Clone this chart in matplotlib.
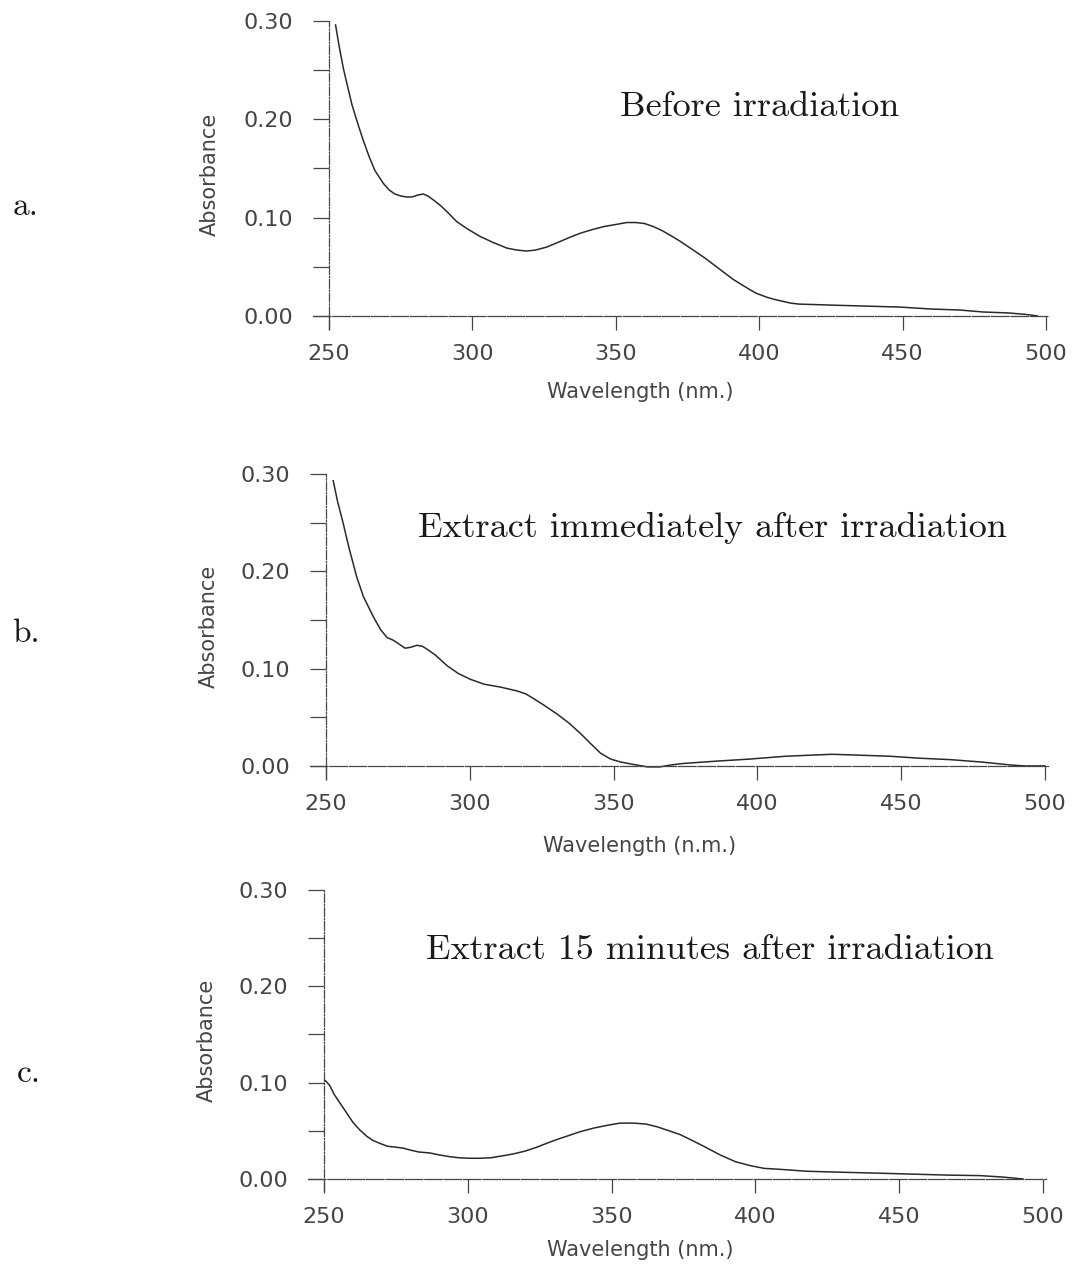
import matplotlib
matplotlib.use("Agg")
import matplotlib.pyplot as plt
from matplotlib.ticker import MultipleLocator

# (wavelength nm, absorbance)
wl_a = [252.3, 253.5, 255, 256.2, 258, 260, 261.9, 264, 266, 268.9, 271, 273, 275,
        277.1, 279, 281, 282.9, 284.5, 286.4, 289, 291.5, 294.5, 298, 302.6, 307,
        312, 315.5, 318.9, 322, 325.9, 330, 334, 337.5, 342, 346, 350, 353.8, 357,
        360, 363, 366, 369, 372.4, 377, 381, 386, 391, 396, 399, 402.7, 405, 408,
        411, 414, 420, 425, 437, 449, 460, 470, 478, 487, 493, 497]
abs_a = [0.296, 0.275, 0.252, 0.237, 0.215, 0.196, 0.179, 0.162, 0.148, 0.135, 0.128,
         0.124, 0.122, 0.121, 0.121, 0.123, 0.124, 0.122, 0.118, 0.112, 0.105, 0.096,
         0.089, 0.081, 0.075, 0.069, 0.067, 0.066, 0.067, 0.070, 0.075, 0.080, 0.084,
         0.088, 0.091, 0.093, 0.095, 0.095, 0.094, 0.091, 0.087, 0.082, 0.076, 0.067,
         0.059, 0.048, 0.037, 0.028, 0.023, 0.019, 0.017, 0.015, 0.013, 0.012, 0.0115,
         0.011, 0.010, 0.009, 0.007, 0.006, 0.004, 0.003, 0.0015, 0.0]

wl_b = [252.5, 254, 256, 258, 260.7, 263, 266.5, 269, 271.2, 273.5, 275.5, 277.5,
        279.5, 281.6, 283.5, 285.1, 288, 292.1, 296, 300.2, 305, 310.7, 316.5, 319.5,
        322.3, 326, 330.5, 334.5, 338.6, 342, 345.5, 349, 352.5, 357, 361.8, 366,
        370, 374, 386, 397, 410, 426, 436, 446, 456, 467, 478, 488, 493, 500]
abs_b = [0.293, 0.272, 0.249, 0.224, 0.194, 0.174, 0.153, 0.140, 0.132, 0.129, 0.125,
         0.121, 0.122, 0.124, 0.123, 0.120, 0.114, 0.103, 0.095, 0.089, 0.084, 0.081,
         0.077, 0.074, 0.069, 0.062, 0.053, 0.044, 0.033, 0.023, 0.013, 0.007, 0.004,
         0.0015, -0.001, -0.001, 0.001, 0.0025, 0.005, 0.007, 0.010, 0.012, 0.011,
         0.010, 0.008, 0.0065, 0.004, 0.001, 0.0, 0.0]

wl_c = [250.5, 252, 253.5, 255.5, 258, 260, 262.4, 265, 267, 269.4, 272, 275, 277.5,
        280, 283, 286.8, 290, 294, 297, 300.7, 304, 308, 312, 315.8, 320, 324, 327.4,
        331, 335, 339, 344, 349, 353, 357.6, 362, 366, 370, 373.9, 378, 382, 387.7,
        393, 398, 403, 408.6, 418, 430, 443, 455, 467, 478, 486, 493]
abs_c = [0.102, 0.097, 0.088, 0.079, 0.068, 0.059, 0.051, 0.044, 0.040, 0.037, 0.034,
         0.033, 0.032, 0.030, 0.028, 0.027, 0.025, 0.023, 0.022, 0.0215, 0.0215, 0.022,
         0.024, 0.026, 0.029, 0.033, 0.037, 0.041, 0.045, 0.049, 0.053, 0.056, 0.058,
         0.058, 0.057, 0.054, 0.050, 0.046, 0.040, 0.034, 0.025, 0.018, 0.014, 0.011,
         0.010, 0.008, 0.007, 0.006, 0.005, 0.004, 0.0035, 0.002, 0.0]

titles = ["Before irradiation",
          "Extract immediately after irradiation",
          "Extract 15 minutes after irradiation"]
letters = ["a.", "b.", "c."]
x_ticks = [250, 300, 350, 400, 450, 500]
y_ticks = [0.00, 0.10, 0.20, 0.30]

W, H = 1073, 1270
INK = "#2a2a2a"
GREY = "#454545"

# axes box in pixels: left, right, top, bottom
boxes = [(313.2, 1048.9, 21, 328.7),
         (310.2, 1047.9, 474, 778.6),
         (308.2, 1045.9, 890, 1191.5)]
title_xy = [(760, 107), (712, 528), (710, 950)]
letter_xy = [(13, 215), (12, 642), (17, 1082)]
xlabel_y = [392, 846, 1250]
ylabel_x = [220, 219, 217]
xlabels = ["Wavelength (nm.)", "Wavelength (n.m.)", "Wavelength (nm.)"]

fig = plt.figure(figsize=(W / 100, H / 100), dpi=100)
fig.patch.set_facecolor("white")

data = [(wl_a, abs_a), (wl_b, abs_b), (wl_c, abs_c)]

for i, (wl, ab) in enumerate(data):
    l, r, t, b = boxes[i]
    ax = fig.add_axes([l / W, 1 - b / H, (r - l) / W, (b - t) / H])
    ax.plot(wl, ab, color=INK, lw=1.1)
    ax.set_xlim(244.5, 501)
    ax.set_ylim(-0.013, 0.30)

    for s in ["top", "right"]:
        ax.spines[s].set_visible(False)
    ax.spines["left"].set_position(("data", 250))
    ax.spines["bottom"].set_position(("data", 0))
    ax.spines["left"].set_linestyle((0, (7, 1.5, 1, 1.5)))
    ax.spines["bottom"].set_linestyle((0, (14, 1.5)))
    for s in ["left", "bottom"]:
        ax.spines[s].set_color(GREY)
        ax.spines[s].set_linewidth(0.9)

    ax.set_xticks(x_ticks)
    ax.set_yticks(y_ticks)
    ax.set_yticklabels(["%.2f" % v for v in y_ticks])
    ax.yaxis.set_minor_locator(MultipleLocator(0.05))
    ax.tick_params(axis="y", which="both", direction="out", length=11.5, width=0.9,
                   color=GREY, pad=14, labelsize=16, labelcolor=GREY)
    ax.tick_params(axis="x", direction="out", length=10, width=0.9, color=GREY,
                   pad=10, labelsize=16, labelcolor=GREY)

    ax.set_ylabel("Absorbance", fontsize=15, color=GREY)
    ax.yaxis.set_label_coords((ylabel_x[i] - l) / (r - l), 0.5)
    ax.set_xlabel(xlabels[i], fontsize=15, color=GREY)
    ax.xaxis.set_label_coords((640 - l) / (r - l), (b - xlabel_y[i]) / (b - t))
    ax.xaxis.label.set_verticalalignment("center")

    fig.text(title_xy[i][0] / W, 1 - title_xy[i][1] / H, titles[i],
             family="cmr10", fontsize=26, color="#1a1a1a", ha="center", va="center")
    fig.text(letter_xy[i][0] / W, 1 - letter_xy[i][1] / H, letters[i],
             family="cmr10", fontsize=24, color="#1a1a1a", ha="left", va="baseline")

fig.savefig("out.png", dpi=100, facecolor="white")
